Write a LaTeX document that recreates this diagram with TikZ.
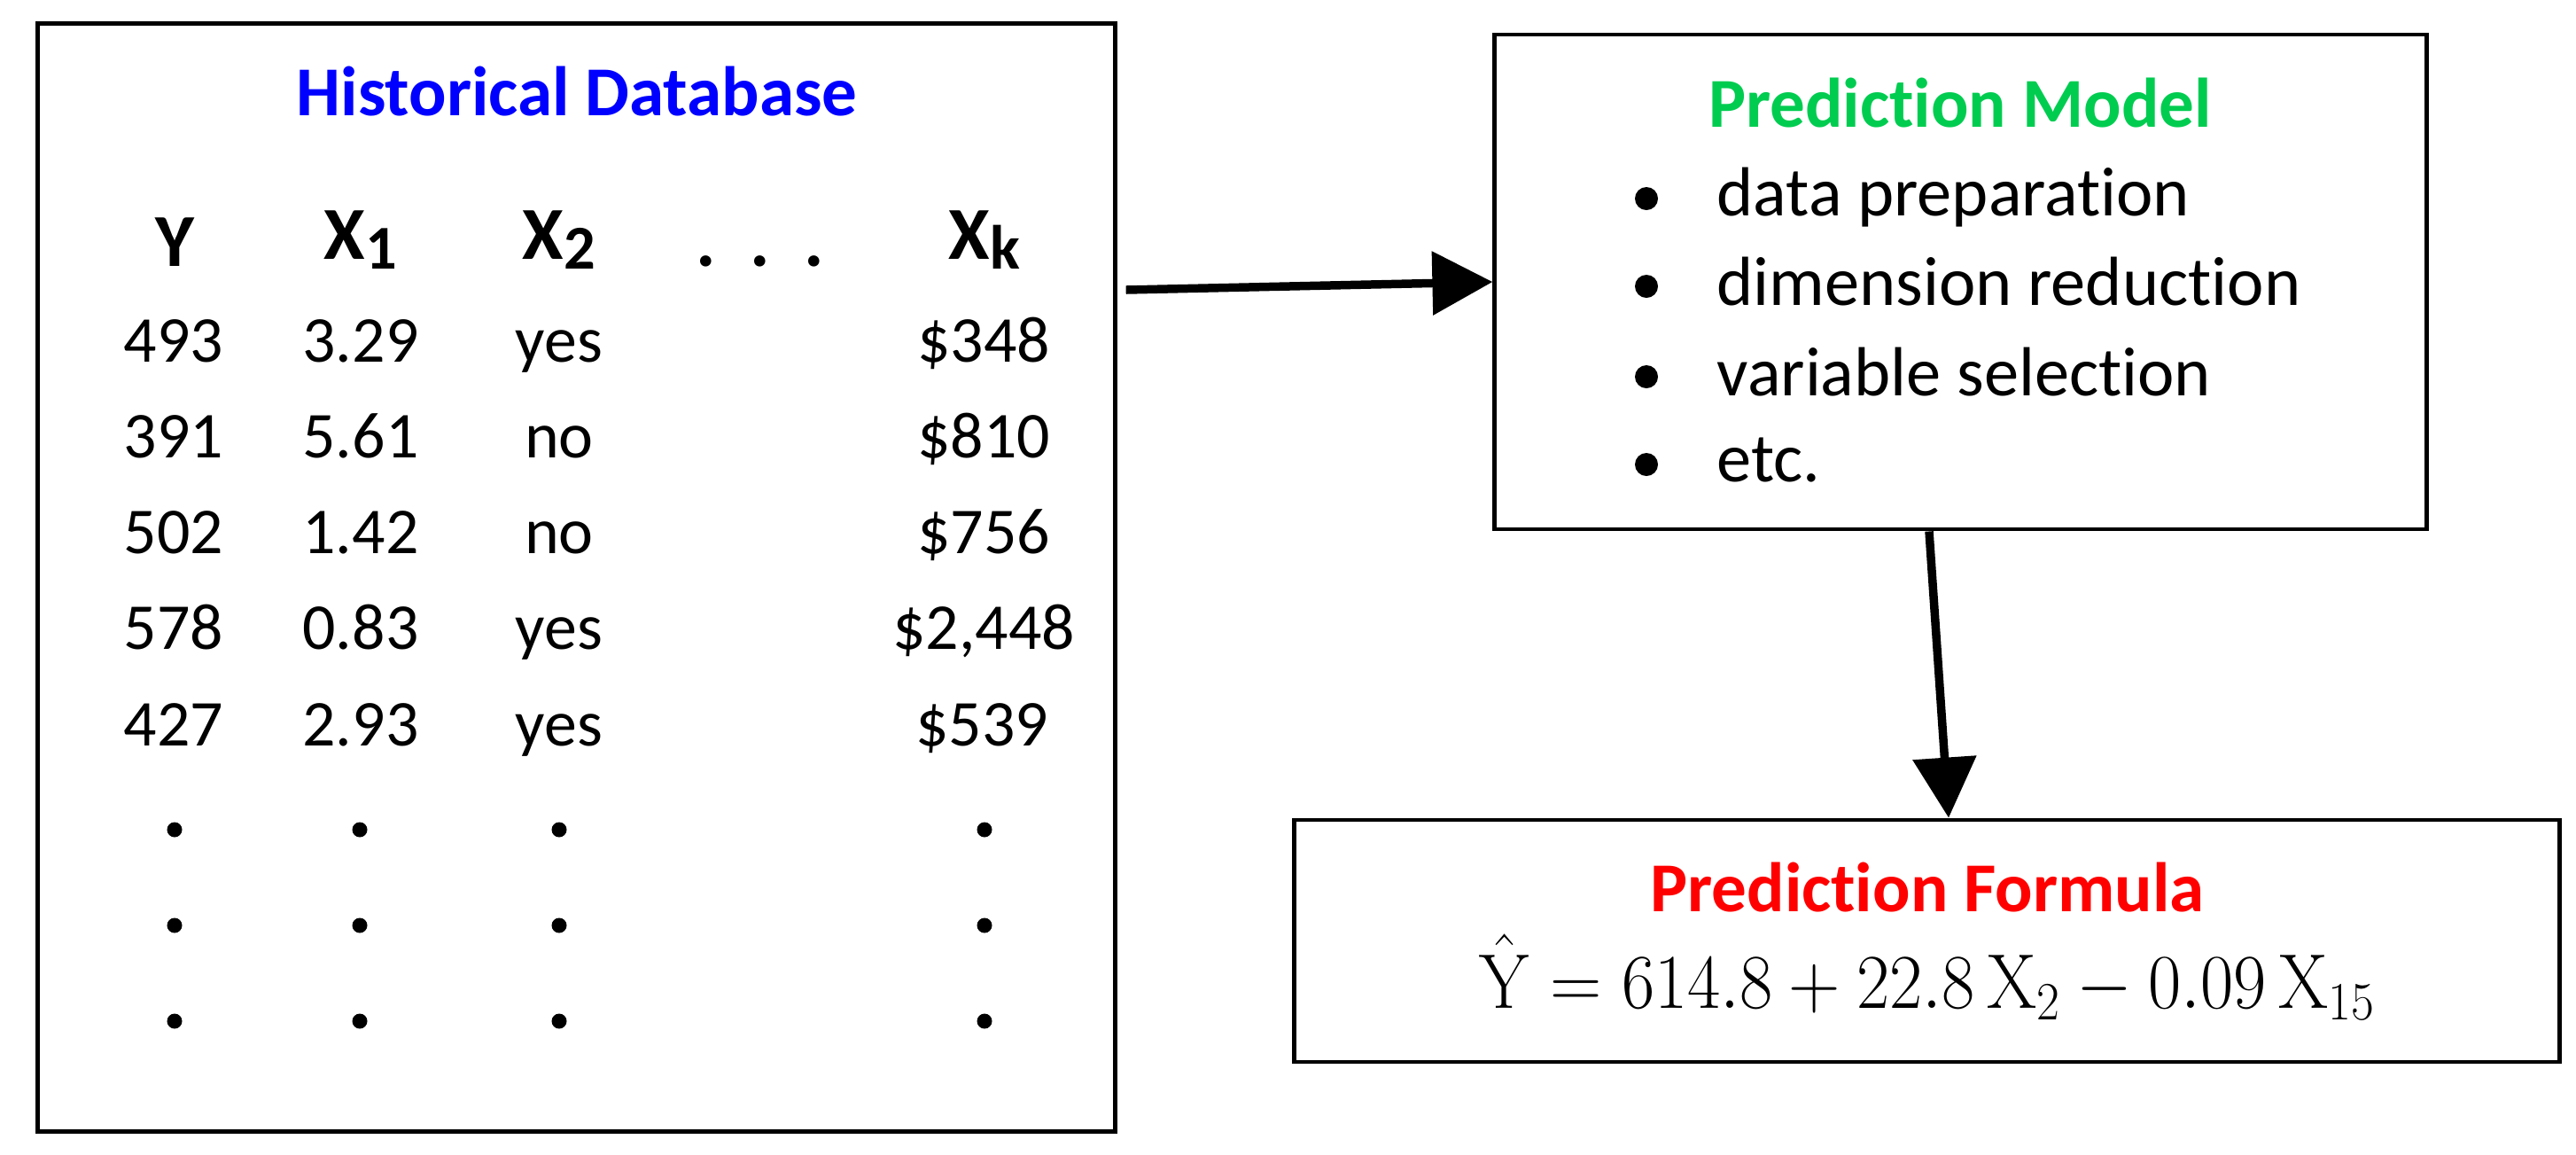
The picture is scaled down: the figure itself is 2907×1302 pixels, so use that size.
\documentclass[tikz,border=0pt]{standalone}
\usepackage[no-math]{fontspec}
\setmainfont[Ligatures=NoCommon]{Carlito}
\usetikzlibrary{arrows.meta}
\definecolor{dbblue}{RGB}{0,0,255}
\definecolor{pmgreen}{RGB}{0,204,80}
\definecolor{pfred}{RGB}{255,0,0}
\begin{document}
\begin{tikzpicture}[x=0.01cm,y=-0.01cm,
  box/.style={draw, line width=1.3pt, inner sep=0pt, rectangle},
  cell/.style={anchor=base, inner sep=0pt, font=\fontsize{21}{25}\selectfont},
  item/.style={anchor=base west, inner sep=0pt, font=\fontsize{22.3}{26}\selectfont},
  hdr/.style={anchor=base, inner sep=0pt, font=\fontsize{24}{28}\selectfont\bfseries},
  ttl/.style={anchor=base, inner sep=0pt, font=\fontsize{22.5}{27}\selectfont\bfseries},
  vdot/.style={circle, fill=black, inner sep=0pt, minimum size=0.17cm},
  bul/.style={circle, fill=black, inner sep=0pt, minimum size=0.26cm},
  arr/.style={line width=2.7pt, -{Triangle[length=0.68cm,width=0.70cm]}}]
\useasboundingbox (0,0) rectangle (2907,1302);

% boxes
\node[box, minimum width=12.15cm, minimum height=12.49cm] (db) at (650.5,651.5) {};
\node[box, minimum width=10.51cm, minimum height=5.58cm] (pm) at (2212.5,318) {};
\node[box, minimum width=14.27cm, minimum height=2.73cm] (pf) at (2174.5,1061.5) {};

% historical database
\node[ttl, text=dbblue] (dbt) at (651,130) {Historical Database};
\node[hdr] (hy) at (197,300) {Y};
\node[hdr] (hx1) at (407,292) {X\raisebox{-0.11cm}{\fontsize{20}{24}\selectfont 1}};
\node[hdr] (hx2) at (631,292) {X\raisebox{-0.11cm}{\fontsize{20}{24}\selectfont 2}};
\node[hdr] (hdots) at (858,300) {\makebox[0.61cm]{.}\makebox[0.61cm]{.}\makebox[0.61cm]{.}};
\node[hdr] (hxk) at (1111,292) {X\raisebox{-0.11cm}{\fontsize{20}{24}\selectfont k}};

\node[cell] (r1a) at (196,408) {493};
\node[cell] (r1b) at (407,408) {3.29};
\node[cell] (r1c) at (631,408) {yes};
\node[cell] (r1d) at (1110,408) {\$348};
\node[cell] (r2a) at (196,516) {391};
\node[cell] (r2b) at (407,516) {5.61};
\node[cell] (r2c) at (631,516) {no};
\node[cell] (r2d) at (1110,516) {\$810};
\node[cell] (r3a) at (196,624) {502};
\node[cell] (r3b) at (407,624) {1.42};
\node[cell] (r3c) at (631,624) {no};
\node[cell] (r3d) at (1110,624) {\$756};
\node[cell] (r4a) at (196,732) {578};
\node[cell] (r4b) at (407,732) {0.83};
\node[cell] (r4c) at (631,732) {yes};
\node[cell] (r4d) at (1110,732) {\$2,448};
\node[cell] (r5a) at (196,841) {427};
\node[cell] (r5b) at (407,841) {2.93};
\node[cell] (r5c) at (631,841) {yes};
\node[cell] (r5d) at (1108,841) {\$539};

\foreach \r [count=\i] in {936,1044,1152}
  \foreach \cx [count=\j] in {197,406,631,1111}
    \node[vdot] (v\i\j) at (\cx,\r) {};

% prediction model
\node[ttl, text=pmgreen] (pmt) at (2212,143) {Prediction Model};
\node[bul] (b1) at (1858,224) {};
\node[bul] (b2) at (1858,323) {};
\node[bul] (b3) at (1858,425) {};
\node[bul] (b4) at (1858,524) {};
\node[item] (i1) at (1937,243) {data preparation};
\node[item] (i2) at (1937,344) {dimension reduction};
\node[item] (i3) at (1937,446) {variable selection};
\node[item] (i4) at (1937,543) {etc.};

% prediction formula
\node[ttl, text=pfred] (pft) at (2175,1028) {Prediction Formula};
\node[anchor=base, inner sep=0pt] (fm) at (2175,1137)
  {\scalebox{0.925}[1]{\fontsize{27}{31}\selectfont $\hat{\mathrm{Y}} = 614.8 + 22.8\,\mathrm{X}_2 - 0.09\,\mathrm{X}_{15}$}};

% arrows
\draw[arr] ([xshift=0.1cm,yshift=-0.09cm]db.east |- pm.west) -- (pm.west);
\draw[arr] ([xshift=-0.355cm]pm.south) -- ([xshift=0.245cm]pf.north);
\end{tikzpicture}
\end{document}
